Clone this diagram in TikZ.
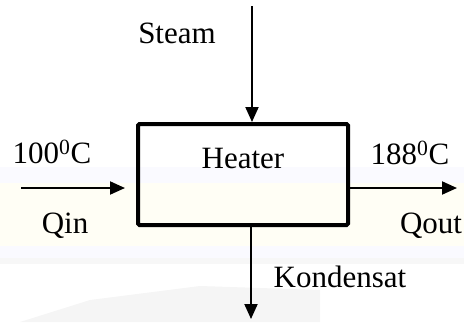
\documentclass[tikz,border=0pt]{standalone}
\usepackage{fontspec}
\setmainfont{Liberation Serif}
\usetikzlibrary{arrows.meta}
\tikzset{
  flow/.style={line width=2pt, -{Triangle[length=15pt,width=13pt]}},
  unit/.style={draw, line width=4pt, rounded corners=1.5pt, minimum width=210pt, minimum height=101pt, inner sep=0pt},
  tag/.style={inner sep=0pt, font=\fontsize{31}{36}\selectfont}
}
\begin{document}
\begin{tikzpicture}[x=1pt, y=-1pt]
  \useasboundingbox (0,0) rectangle (464,322);
  % faint background bands
  \fill[black!6!blue!2!white] (0,167) rectangle (464,183);
  \fill[yellow!4!white] (0,183) rectangle (464,246);
  \fill[black!6!blue!2!white] (0,246) rectangle (464,258);
  \fill[black!3!white] (0,258) rectangle (464,264);
  \fill[black!4!white] (20,322) -- (90,300) -- (200,286) -- (320,290) -- (320,322) -- cycle;

  % heater unit
  \node[unit] (box) at (243,174.5) {};
  \node[tag] (heater) at (243,158) {Heater};

  % stream end points
  \coordinate (steamtop) at (252,6);
  \coordinate (qinstart) at (21,188);
  \coordinate (qoutend) at (457,188);
  \coordinate (kondend) at (251,319);

  % streams
  \draw[flow] (steamtop) -- (steamtop |- box.north);
  \draw[flow, shorten >=11pt] (qinstart) -- (box.west |- qinstart);
  \draw[flow] (box.east |- qoutend) -- (qoutend);
  \draw[flow] (kondend |- box.south) -- (kondend);

  % labels
  \node[tag] (steam) at (177,33) {Steam};
  \node[tag] (tin) at (52,152) {100\textsuperscript{0}C};
  \node[tag] (qin) at (65,226) {Qin};
  \node[tag] (tout) at (410,153) {188\textsuperscript{0}C};
  \node[tag] (qout) at (431,226) {Qout};
  \node[tag] (kond) at (340,277) {Kondensat};
\end{tikzpicture}
\end{document}
